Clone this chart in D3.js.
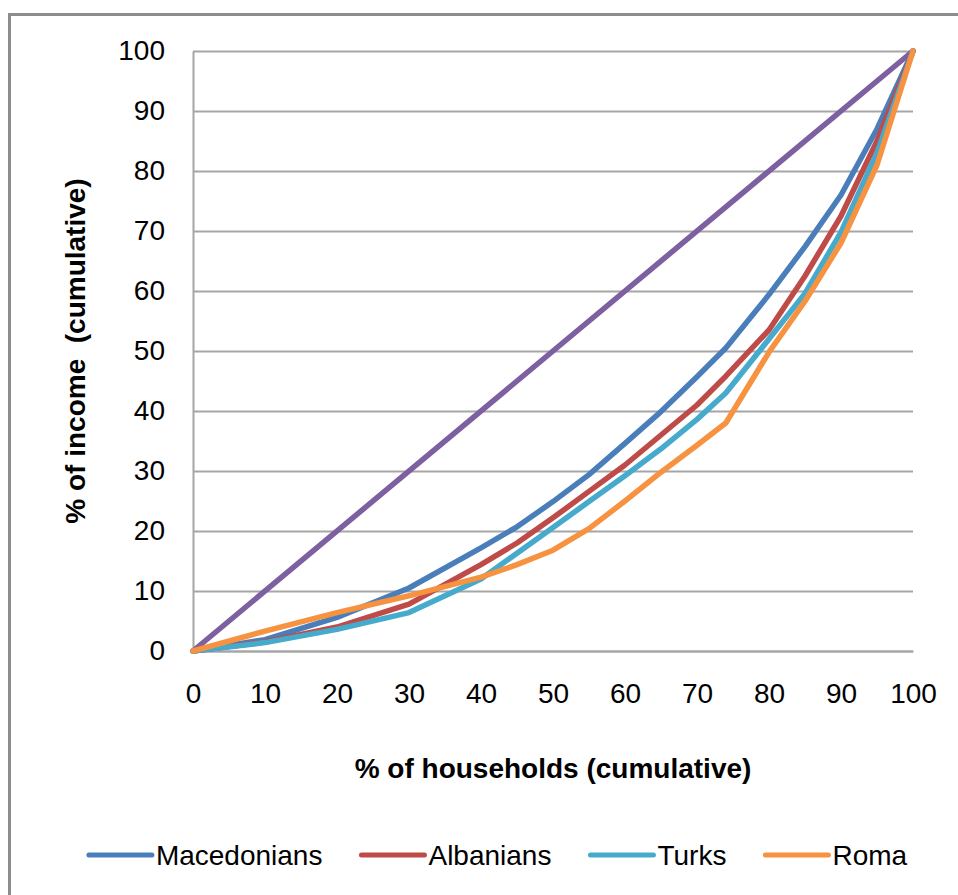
<!DOCTYPE html>
<html>
<head>
<meta charset="utf-8">
<script src="https://cdn.jsdelivr.net/npm/d3@7"></script>
<style>
  body { margin: 0; background: #fff; }
  svg { display: block; font-family: "Liberation Sans", Arial, sans-serif; }
</style>
</head>
<body>
<div id="main"></div>
<script>
/**
 * Lorenz curves of household income by ethnic group
 */
const WIDTH = 958;
const HEIGHT = 895;
const PLOT = { left: 193, right: 913, top: 51, bottom: 651 };

// cumulative % of households (shared x values)
const pctHouseholds = [0, 10, 20, 30, 40, 45, 50, 55, 60, 65, 70, 74, 80, 85, 90, 95, 100];

// cumulative % of income, one list per group
const macedonians = [0, 1.9, 5.6, 10.5, 17.2, 20.7, 24.9, 29.4, 34.6, 39.9, 45.7, 50.5, 59.4, 67.4, 76, 87, 100];
const albanians = [0, 1.5, 4, 7.8, 14.4, 18, 22.2, 26.6, 31, 36, 41, 45.8, 53.5, 62.5, 72.5, 85, 100];
const turks = [0, 1.4, 3.6, 6.4, 12, 16.3, 20.6, 24.9, 29.2, 33.7, 38.6, 43, 52, 59.6, 69.8, 83, 100];
const roma = [0, 3.3, 6.4, 9.2, 12.3, 14.4, 16.8, 20.4, 25, 29.8, 34.3, 38, 49.8, 58.3, 68, 81, 100];

// line of perfect equality
const equalityX = [0, 100];
const equalityY = [0, 100];

const seriesNames = ['Macedonians', 'Albanians', 'Turks', 'Roma'];
const seriesValues = [macedonians, albanians, turks, roma];
const seriesColors = ['#4A7EBB', '#BE4B48', '#46AACC', '#F69240'];
const equalityColor = '#7D60A0';

const xTicks = [0, 10, 20, 30, 40, 50, 60, 70, 80, 90, 100];
const yTicks = [0, 10, 20, 30, 40, 50, 60, 70, 80, 90, 100];

const GRID_COLOR = '#A6A6A6';
const FONT_SIZE = 28;
const LINE_WIDTH = 5.5;

function getSvg() {
  if (d3.select('#main').select('svg').nodes().length) {
    return d3.select('#main').select('svg');
  }
  return d3.select('#main')
    .append('svg')
    .attr('width', WIDTH)
    .attr('height', HEIGHT)
    .attr('viewBox', [0, 0, WIDTH, HEIGHT]);
}

const x = d3.scaleLinear().domain([0, 100]).range([PLOT.left, PLOT.right]);
const y = d3.scaleLinear().domain([0, 100]).range([PLOT.bottom, PLOT.top]);

function renderFrame() {
  // outer chart border, only top and left edge visible (cropped)
  getSvg().append('rect')
    .attr('x', 9.5)
    .attr('y', 14.5)
    .attr('width', WIDTH + 20)
    .attr('height', HEIGHT + 20)
    .attr('fill', 'none')
    .attr('stroke', '#8C8C8C')
    .attr('stroke-width', 3);
}

function renderAxes() {
  const svg = getSvg();

  // horizontal gridlines
  svg.append('g')
    .attr('transform', `translate(${PLOT.left}, 0)`)
    .call(d3.axisRight(y).tickValues(yTicks).tickSize(PLOT.right - PLOT.left).tickFormat(''))
    .call(g => g.select('.domain').remove())
    .call(g => g.selectAll('line').attr('stroke', GRID_COLOR).attr('stroke-width', 2));

  // y axis
  const yAxis = svg.append('g')
    .attr('transform', `translate(${PLOT.left}, 0)`)
    .call(d3.axisLeft(y).tickValues(yTicks).tickSize(0).tickPadding(28));
  yAxis.select('.domain').attr('stroke', GRID_COLOR).attr('stroke-width', 2);
  yAxis.selectAll('text')
    .attr('font-size', FONT_SIZE)
    .attr('font-family', null)
    .attr('fill', '#000');

  // x axis
  const xAxis = svg.append('g')
    .attr('transform', `translate(0, ${PLOT.bottom})`)
    .call(d3.axisBottom(x).tickValues(xTicks).tickSize(0).tickPadding(32));
  xAxis.select('.domain').attr('stroke', GRID_COLOR).attr('stroke-width', 2);
  xAxis.selectAll('text')
    .attr('font-size', FONT_SIZE)
    .attr('font-family', null)
    .attr('fill', '#000');

  // axis titles
  svg.append('text')
    .attr('x', (PLOT.left + PLOT.right) / 2)
    .attr('y', 778)
    .attr('text-anchor', 'middle')
    .attr('font-size', FONT_SIZE)
    .attr('font-weight', 'bold')
    .text('% of households (cumulative)');

  svg.append('text')
    .attr('transform', `translate(85, ${(PLOT.top + PLOT.bottom) / 2}) rotate(-90)`)
    .attr('text-anchor', 'middle')
    .attr('font-size', FONT_SIZE)
    .attr('font-weight', 'bold')
    .style('white-space', 'pre')
    .text('% of income  (cumulative)');
}

function renderLines() {
  const svg = getSvg();
  const line = d3.line().x(d => x(d[0])).y(d => y(d[1]));

  svg.append('path')
    .datum(d3.zip(equalityX, equalityY))
    .attr('d', line)
    .attr('fill', 'none')
    .attr('stroke', equalityColor)
    .attr('stroke-width', LINE_WIDTH)
    .attr('stroke-linejoin', 'round')
    .attr('stroke-linecap', 'round');

  seriesValues.forEach((values, i) => {
    svg.append('path')
      .datum(d3.zip(pctHouseholds, values))
      .attr('d', line)
      .attr('fill', 'none')
      .attr('stroke', seriesColors[i])
      .attr('stroke-width', LINE_WIDTH)
      .attr('stroke-linejoin', 'round')
      .attr('stroke-linecap', 'round');
  });
}

function renderLegend() {
  const svg = getSvg();
  const g = svg.append('g');
  const swatch = 65;
  const gap = 37;
  const legendY = 855;
  let cursor = 0;

  seriesNames.forEach((name, i) => {
    g.append('line')
      .attr('x1', cursor + 2)
      .attr('x2', cursor + swatch)
      .attr('y1', legendY)
      .attr('y2', legendY)
      .attr('stroke', seriesColors[i])
      .attr('stroke-width', 5)
      .attr('stroke-linecap', 'round');
    const label = g.append('text')
      .attr('x', cursor + swatch + 4)
      .attr('y', legendY)
      .attr('dy', '0.35em')
      .attr('font-size', FONT_SIZE)
      .text(name);
    cursor += swatch + 4 + label.node().getComputedTextLength() + gap;
  });

  // centre the legend row
  const total = cursor - gap;
  g.attr('transform', `translate(${497 - total / 2}, 0)`);
}

function startScripts() {
  getSvg();
  renderFrame();
  renderAxes();
  renderLines();
  renderLegend();
}

startScripts();
</script>
</body>
</html>
